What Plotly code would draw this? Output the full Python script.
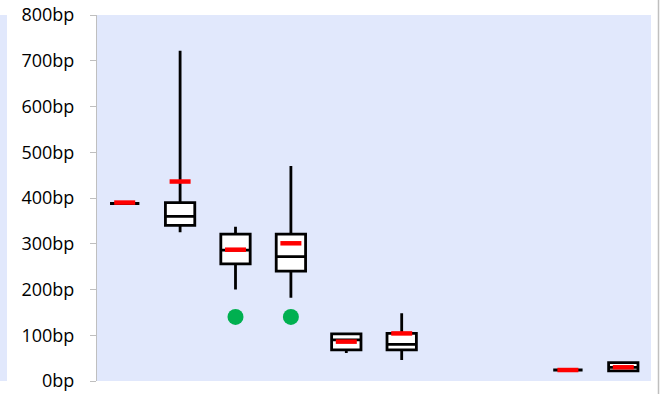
import plotly.graph_objects as go

# Box statistics per group (bp)
categories = ["G1", "G2", "G3", "G4", "G5", "G6", "G7", "G8", "G9", "G10"]
box_cats = ["G1", "G2", "G3", "G4", "G5", "G6", "G9", "G10"]
lower = [388, 325, 200, 182, 61, 46, 24, 20]
q1 = [388, 340, 256, 240, 68, 68, 24, 22]
median = [388, 360, 286, 272, 90, 80, 24, 30]
q3 = [388, 390, 321, 321, 103, 104, 24, 40]
upper = [388, 722, 337, 470, 106, 148, 24, 42]
means = [390, 436, 287, 301, 86, 104, 24, 30]

outlier_cats = ["G3", "G4"]
outlier_vals = [140, 140]

y_ticks = [0, 100, 200, 300, 400, 500, 600, 700, 800]
y_labels = [f"{v}bp" for v in y_ticks]

BG = "#E1E8FC"

fig = go.Figure()

# Boxes with whiskers, no caps
fig.add_trace(go.Box(
    x = box_cats,
    q1 = q1,
    median = median,
    q3 = q3,
    lowerfence = lower,
    upperfence = upper,
    fillcolor = "white",
    line = dict(color = "black", width = 2.8),
    whiskerwidth = 0,
    width = 0.53,
    showlegend = False,
))

# Mean as a short red bar
fig.add_trace(go.Scatter(
    x = box_cats,
    y = means,
    mode = "markers",
    marker = dict(symbol = "line-ew", size = 15, line = dict(color = "#FF0000", width = 4.5)),
    showlegend = False,
))

# Outliers
fig.add_trace(go.Scatter(
    x = outlier_cats,
    y = outlier_vals,
    mode = "markers",
    marker = dict(size = 16, color = "#00B050"),
    showlegend = False,
))

fig.update_layout(
    width = 660,
    height = 394,
    autosize = False,
    margin = dict(l = 97, r = 9, t = 15, b = 13, autoexpand = False),
    paper_bgcolor = "white",
    plot_bgcolor = BG,
    font = dict(family = "Open Sans", size = 18, color = "black"),
    xaxis = dict(
        type = "category",
        categoryorder = "array",
        categoryarray = categories,
        range = [-0.5, 9.5],
        showticklabels = False,
        showgrid = False,
        zeroline = False,
        showline = False,
        ticks = "",
        automargin = False,
    ),
    yaxis = dict(
        range = [0, 800],
        tickmode = "array",
        tickvals = y_ticks,
        ticktext = y_labels,
        tickfont = dict(family = "Open Sans", size = 18, color = "black"),
        showgrid = False,
        zeroline = False,
        showline = True,
        linecolor = "#BFBFBF",
        linewidth = 1,
        ticks = "outside",
        ticklen = 6,
        tickcolor = "#BFBFBF",
        ticklabelstandoff = 12,
        automargin = False,
    ),
    shapes = [
        # light strip on the far left
        dict(type = "rect", xref = "paper", yref = "paper",
             x0 = -97 / 554, x1 = -90 / 554, y0 = 0, y1 = 1,
             fillcolor = BG, line = dict(width = 0), layer = "below"),
        # thin grey border on the right
        dict(type = "line", xref = "paper", yref = "paper",
             x0 = 561.5 / 554, x1 = 561.5 / 554, y0 = -0.1, y1 = 1.1,
             line = dict(color = "#BFBFBF", width = 1.5)),
    ],
)

# drop the default page margin so the figure sits at the window's corner
fig.write_html(
    "out.html",
    config = {"displayModeBar": False},
    post_script = "document.body.style.margin = '0'; document.body.style.overflow = 'hidden';",
)
